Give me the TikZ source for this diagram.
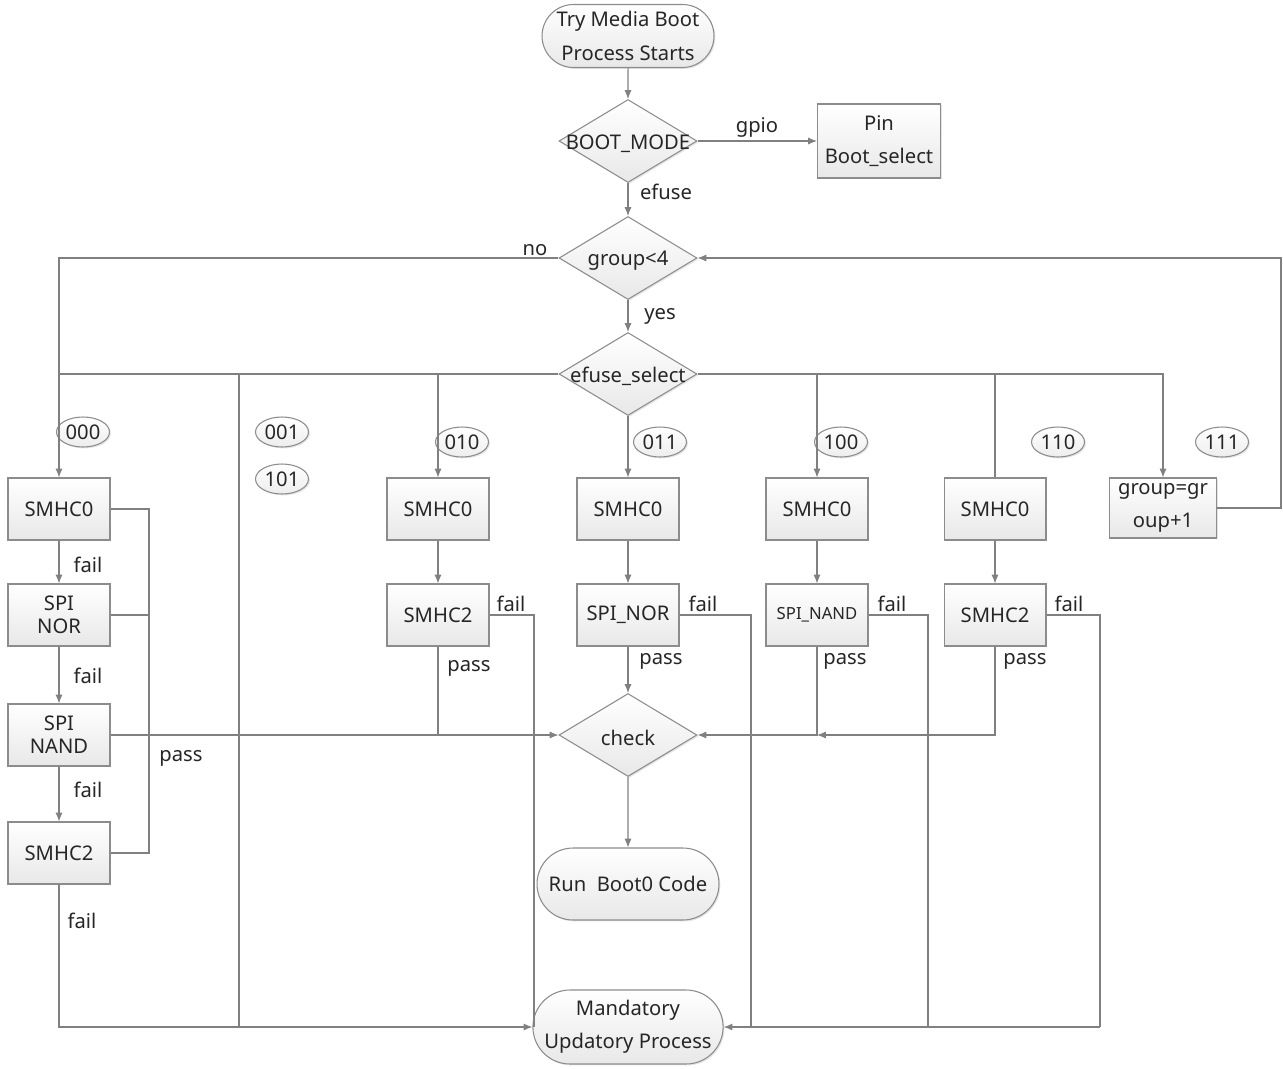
\documentclass[tikz,border=0pt]{standalone}
\usepackage{fontspec}
\setmainfont{Noto Sans}
\usetikzlibrary{shapes.geometric,shapes.misc,arrows.meta,shadows}
\definecolor{ln}{HTML}{808080}
\definecolor{tx}{HTML}{262626}
\definecolor{bd}{HTML}{8C8C8C}
\tikzset{
  fnt/.style={font=\fontsize{11.5}{19}\selectfont},
  base/.style={draw=bd, line width=0.6pt, top color=white, bottom color=black!9,
    text=tx, fnt, inner sep=0pt, align=center,
    drop shadow={shadow xshift=0.8pt, shadow yshift=-0.8pt, opacity=0.2}},
  box/.style={base, rectangle, minimum width=2.04cm, minimum height=1.24cm},
  dia/.style={base, diamond, minimum width=2.76cm, minimum height=1.66cm},
  term/.style={base, rounded rectangle, minimum width=3.44cm, minimum height=1.26cm},
  tag/.style={base, ellipse, minimum width=1.06cm, minimum height=0.6cm, bottom color=black!7},
  lbl/.style={text=tx, fnt, inner sep=0pt},
  dtext/.style={text=tx, fnt, inner sep=0pt, yshift=-1.5pt},
  conn/.style={draw=ln, line width=0.6pt},
  arr/.style={conn, -{Latex[length=5pt,width=4pt]}},
}
\begin{document}
\begin{tikzpicture}[x=0.02cm,y=-0.02cm]
\useasboundingbox[fill=white] (0,0) rectangle (1283,1068);

% main column
\node[term] (start) at (628,36) {Try Media Boot\\Process Starts};
\node[dia] (bm) at (628,141) {};
\node[dtext] (bmt) at (bm) {BOOT\_MODE};
\node[box, minimum width=2.46cm, minimum height=1.48cm] (pin) at (879,141) {Pin\\Boot\_select};
\node[dia] (g4) at (628,258) {};
\node[dtext] (g4t) at (g4) {group<4};
\node[dia] (es) at (628,374) {};
\node[dtext] (est) at (es) {efuse\_select};

% left column
\node[box] (a0) at (59,509) {SMHC0};
\node[box, font=\fontsize{11.5}{13}\selectfont] (a1) at (59,615) {SPI\\NOR};
\node[box, font=\fontsize{11.5}{13}\selectfont] (a2) at (59,735) {SPI\\NAND};
\node[box] (a3) at (59,853) {SMHC2};

% other columns
\node[box] (b0) at (438,509) {SMHC0};
\node[box] (b1) at (438,615) {SMHC2};
\node[box] (c0) at (628,509) {SMHC0};
\node[box] (c1) at (628,615) {SPI\_NOR};
\node[box] (d0) at (817,509) {SMHC0};
\node[box, font=\fontsize{9.5}{12}\selectfont] (d1) at (817,615) {SPI\_NAND};
\node[box] (e0) at (995,509) {SMHC0};
\node[box] (e1) at (995,615) {SMHC2};
\node[box, minimum width=2.14cm, minimum height=1.2cm] (gp) at (1163,508) {group=gr\\oup+1};

\node[dia] (chk) at (628,735) {};
\node[dtext] (chkt) at (chk) {check};
\node[term, minimum width=3.64cm, minimum height=1.44cm] (run) at (628,884) {Run~~Boot0 Code};
\node[term, minimum width=3.64cm, minimum height=1.48cm] (mand) at (628,1027) {Mandatory\\Updatory Process};

% tags
\node[tag] (t000) at (83,432) {000};
\node[tag] (t001) at (282,432) {001};
\node[tag] (t101) at (282,479) {101};
\node[tag] (t010) at (462,442) {010};
\node[tag] (t011) at (660,442) {011};
\node[tag] (t100) at (841,442) {100};
\node[tag] (t110) at (1058,442) {110};
\node[tag] (t111) at (1222,442) {111};

% helper coordinates
\coordinate (jL) at (59,374);
\coordinate (m239) at (239,1027);
\coordinate (rl) at (149,853);
\coordinate (fb) at (534,1027);
\coordinate (fc) at (751,1027);
\coordinate (fd) at (928,1027);
\coordinate (fe) at (1100,1027);
\coordinate (rr) at (1281,258);

% connectors
\draw[arr] (start) -- (bm);
\draw[arr] (bm.east) -- (pin.west);
\draw[arr] (bm) -- (g4);
\draw[conn] (g4.west) -| (jL);
\draw[arr] (g4) -- (es);
\draw[arr] (es.west) -| (a0.north);
\draw[conn] (es.west) -| (m239);
\draw[arr] (es.west) -| (b0.north);
\draw[arr] (es) -- (c0);
\draw[arr] (es.east) -| (d0.north);
\draw[conn] (es.east) -| (e0.north);
\draw[arr] (es.east) -| (gp.north);

\draw[arr] (a0) -- (a1);
\draw[arr] (a1) -- (a2);
\draw[arr] (a2) -- (a3);
\draw[conn] (a0.east) -| (rl) -- (a3.east);
\draw[conn] (a1.east) -- (a1.east -| rl);
\draw[arr] (a2.east) -- (chk.west);
\draw[arr] (a3.south) |- (mand.west);

\draw[arr] (b0) -- (b1);
\draw[conn] (b1.east) -| (fb);
\draw[conn] (b1.south) -- (b1.south |- chk.west);

\draw[arr] (c0) -- (c1);
\draw[arr] (c1) -- (chk);
\draw[conn] (c1.east) -| (fc);
\draw[arr] (chk) -- (run);

\draw[arr] (d0) -- (d1);
\draw[conn] (d1.east) -| (fd);
\draw[arr] (d1.south) |- (chk.east);

\draw[arr] (e0) -- (e1);
\draw[conn] (e1.east) -| (fe);
\draw[arr] (e1.south) |- (d1.south |- chk.east);
\draw[arr] (fe) -- (mand.east);

\draw[arr] (gp.east) -| (rr) -- (g4.east);

% labels
\node[lbl] (lgpio) at (757,127) {gpio};
\node[lbl] (lefuse) at (666,192) {efuse};
\node[lbl] (lno) at (535,250) {no};
\node[lbl] (lyes) at (660,316) {yes};
\node[lbl] (la1) at (88,565) {fail};
\node[lbl] (la2) at (88,676) {fail};
\node[lbl] (la3) at (88,790) {fail};
\node[lbl] (lap) at (181,758) {pass};
\node[lbl] (la4) at (82,921) {fail};
\node[lbl] (lbf) at (511,604) {fail};
\node[lbl] (lbp) at (469,668) {pass};
\node[lbl] (lcf) at (703,604) {fail};
\node[lbl] (lcp) at (661,661) {pass};
\node[lbl] (ldf) at (892,604) {fail};
\node[lbl] (ldp) at (845,661) {pass};
\node[lbl] (lef) at (1069,604) {fail};
\node[lbl] (lep) at (1025,661) {pass};
\end{tikzpicture}
\end{document}
